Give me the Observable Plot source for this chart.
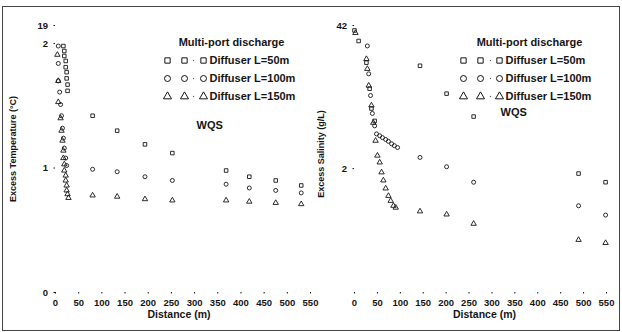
<!DOCTYPE html>
<html>
<head>
<meta charset="utf-8">
<script src="https://cdn.jsdelivr.net/npm/d3@7"></script>
<script src="https://cdn.jsdelivr.net/npm/@observablehq/plot@0.6"></script>
<style>
  body { margin: 0; background: #fff; }
  #wrap { position: relative; width: 622px; height: 332px; overflow: hidden; }
  #wrap svg { position: absolute; top: 0; overflow: visible; }
  #frame { position: absolute; left: 2px; top: 6px; width: 616px; height: 323px; border: 1px solid #444; }
</style>
</head>
<body>
<div id="wrap"><div id="frame"></div></div>
<script>
// Distance axis (m)
const distTicks = [0, 50, 100, 150, 200, 250, 300, 350, 400, 450, 500, 550];

// Temperature axis: broken scale, top tick stands for 19 °C
const tempTickValues = [0, 1, 2, 2.145];
const tempTickLabels = ["0", "1", "2", "19"];

// Salinity axis: broken scale, top tick stands for 42 g/L
const salTickValues = [2, 4.31];
const salTickLabels = ["2", "42"];

// ---- Excess temperature, near field ----
const tNearDist50 = [17, 19, 19, 22, 22, 24, 24, 26, 26];
const tNear50     = [1.98, 1.94, 1.90, 1.86, 1.81, 1.77, 1.72, 1.67, 1.62];
const tNearDist100 = [6, 6, 6, 9, 11, 13, 15, 17, 19, 22, 24];
const tNear100     = [1.98, 1.84, 1.70, 1.61, 1.51, 1.42, 1.32, 1.24, 1.16, 1.08, 1.02];
const tNearDist150 = [4, 6, 6, 11, 13, 15, 17, 17, 19, 19, 22, 22, 24, 24, 26, 28];
const tNear150     = [1.91, 1.70, 1.53, 1.40, 1.30, 1.22, 1.14, 1.08, 1.03, 0.98, 0.94, 0.90, 0.86, 0.82, 0.79, 0.76];

// ---- Excess temperature, far field ----
const tFarDist = [80, 133, 193, 252, 368, 418, 475, 530];
const tFar50   = [1.42, 1.30, 1.19, 1.12, 0.98, 0.93, 0.90, 0.86];
const tFar100  = [0.99, 0.97, 0.93, 0.90, 0.87, 0.84, 0.82, 0.80];
const tFar150  = [0.78, 0.77, 0.75, 0.74, 0.74, 0.73, 0.72, 0.71];

// ---- Excess salinity, near field ----
const sNearDist50 = [0, 9, 26, 33, 37, 44];
const sNear50     = [4.23, 4.06, 3.71, 3.29, 2.97, 2.77];
const sNearDist100 = [28, 31, 35, 39, 44, 48, 55, 61, 68, 74, 81, 87, 94];
const sNear100     = [3.98, 3.53, 3.18, 2.89, 2.69, 2.56, 2.53, 2.50, 2.47, 2.44, 2.40, 2.37, 2.34];
const sNearDist150 = [2, 26, 28, 31, 37, 41, 46, 50, 55, 59, 63, 68, 74, 79, 85, 90];
const sNear150     = [4.19, 3.77, 3.61, 3.34, 3.02, 2.74, 2.45, 2.21, 2.10, 1.94, 1.81, 1.68, 1.56, 1.48, 1.40, 1.37];

// ---- Excess salinity, far field ----
const sFarDist = [143, 201, 260, 489, 548];
const sFar50   = [3.66, 3.21, 2.84, 1.92, 1.78];
const sFar100  = [2.18, 2.03, 1.78, 1.40, 1.25];
const sFar150  = [1.31, 1.26, 1.11, 0.85, 0.80];

// Legend entries
const legendTitle = "Multi-port discharge";
const legendLabels = ["Diffuser L=50m", "Diffuser L=100m", "Diffuser L=150m"];
const legendSymbols = ["square", "circle", "triangle"];
const wqsLabel = "WQS";

const ink = "#151515";
const font = "Liberation Sans, Arial, Helvetica, sans-serif";

const pts = (xs, ys) => xs.map((x, i) => ({x, y: ys[i]}));

function seriesMarks(groups) {
  return groups.map(([xs, ys, symbol]) =>
    Plot.dot(pts(xs, ys), {x: "x", y: "y", symbol, r: 2, fill: "none", stroke: ink, strokeWidth: 0.9})
  );
}

function legendMarks(o) {
  const marks = [
    Plot.text([legendTitle], {text: d => d, frameAnchor: "top-left", dx: o.titleDx, dy: o.titleDy,
      textAnchor: "middle", lineAnchor: "middle", fontSize: 11, fontWeight: "bold", fill: ink})
  ];
  legendLabels.forEach((label, i) => {
    const dy = o.rowDy + i * o.rowStep;
    for (const sx of o.symDx) {
      marks.push(Plot.dot([label], {frameAnchor: "top-left", dx: sx, dy, symbol: legendSymbols[i],
        r: 3, fill: "none", stroke: ink, strokeWidth: 1}));
    }
    marks.push(Plot.dot([label], {frameAnchor: "top-left", dx: o.dotDx, dy, r: 0.7, fill: "#666"}));
    marks.push(Plot.text([label], {text: d => d, frameAnchor: "top-left", dx: o.textDx, dy,
      textAnchor: "start", lineAnchor: "middle", fontSize: 11, fontWeight: "bold", fill: ink}));
  });
  marks.push(Plot.text([wqsLabel], {text: d => d, frameAnchor: "top-left", dx: o.wqsDx, dy: o.wqsDy,
    textAnchor: "start", lineAnchor: "middle", fontSize: 11, fontWeight: "bold", fill: ink}));
  return marks;
}

function panel(o) {
  return Plot.plot({
    width: 311,
    height: 332,
    marginTop: 25,
    marginBottom: 40,
    marginLeft: o.marginLeft,
    marginRight: o.marginRight,
    style: {fontFamily: font, fontSize: "9.5px", fontWeight: "bold", color: ink, background: "transparent", overflow: "visible"},
    x: {domain: [0, 550], ticks: distTicks, tickSize: 1.5, tickPadding: 5, label: null},
    y: {domain: o.yDomain, ticks: o.yTicks, tickFormat: d => o.yLabels[o.yTicks.indexOf(d)],
        tickSize: 1.5, tickPadding: 6, label: null},
    marks: [
      ...seriesMarks(o.series),
      Plot.text([o.yTitle], {text: d => d, frameAnchor: "left", rotate: -90, textAnchor: "middle",
        dx: o.yTitleDx, dy: o.yTitleDy, fontSize: 9, fontWeight: "bold", fill: ink}),
      Plot.text(["Distance (m)"], {text: d => d, frameAnchor: "bottom", textAnchor: "middle",
        dx: o.xTitleDx, dy: 25, fontSize: 10.5, fontWeight: "bold", fill: ink}),
      ...legendMarks(o.legend)
    ]
  });
}

const left = panel({
  marginLeft: 55, marginRight: 1,
  yDomain: [0, 2.145], yTicks: tempTickValues, yLabels: tempTickLabels,
  yTitle: "Excess Temperature (\u00B0C)", yTitleDx: -42, yTitleDy: -10, xTitleDx: -4,
  series: [
    [tNearDist50, tNear50, "square"], [tFarDist, tFar50, "square"],
    [tNearDist100, tNear100, "circle"], [tFarDist, tFar100, "circle"],
    [tNearDist150, tNear150, "triangle"], [tFarDist, tFar150, "triangle"]
  ],
  legend: {titleDx: 176, titleDy: 17, rowDy: 35, rowStep: 18, symDx: [112, 129, 148], dotDx: 138,
           textDx: 154, wqsDx: 141, wqsDy: 100}
});

const right = panel({
  marginLeft: 43, marginRight: 16,
  yDomain: [0, 4.31], yTicks: salTickValues, yLabels: salTickLabels,
  yTitle: "Excess Salinity (g/L)", yTitleDx: -33, yTitleDy: -5, xTitleDx: 4,
  series: [
    [sNearDist50, sNear50, "square"], [sFarDist, sFar50, "square"],
    [sNearDist100, sNear100, "circle"], [sFarDist, sFar100, "circle"],
    [sNearDist150, sNear150, "triangle"], [sFarDist, sFar150, "triangle"]
  ],
  legend: {titleDx: 175, titleDy: 17, rowDy: 35, rowStep: 18, symDx: [109, 126, 145], dotDx: 136,
           textDx: 151, wqsDx: 146, wqsDy: 87}
});

left.style.left = "0px";
right.style.left = "311px";
document.getElementById("wrap").append(left, right);
</script>
</body>
</html>
